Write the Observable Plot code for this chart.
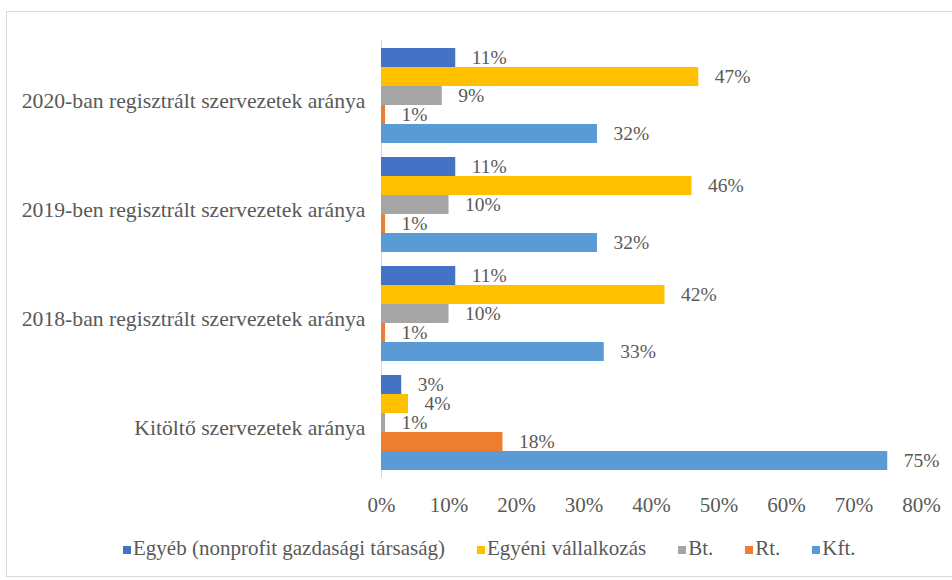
<!DOCTYPE html>
<html>
<head>
<meta charset="utf-8">
<script src="https://cdn.jsdelivr.net/npm/d3@7"></script>
<script src="https://cdn.jsdelivr.net/npm/@observablehq/plot@0.6"></script>
<style>
  html, body { margin: 0; padding: 0; background: #fff; }
  #wrap { position: relative; width: 952px; height: 580px; overflow: hidden; font-family: "Liberation Serif", "DejaVu Serif", "Noto Serif", Tinos, serif; }
  #frame { position: absolute; left: 6px; top: 11px; width: 1000px; height: 564px; border: 1px solid #d9d9d9; }
  #chart { position: absolute; left: 0; top: 0; }
  #legend { position: absolute; left: 123px; top: 536px; display: flex; align-items: center; gap: 32px; font-size: 21px; line-height: 24px; color: #595959; white-space: nowrap; }
  #legend .item { display: flex; align-items: center; }
  #legend .sw { width: 8px; height: 8px; margin-right: 2px; margin-top: 3px; }
  #chart svg text { font-family: "Liberation Serif", "DejaVu Serif", "Noto Serif", Tinos, serif; }
</style>
</head>
<body>
<div id="wrap">
  <div id="frame"></div>
  <div id="chart"></div>
  <div id="legend"></div>
</div>
<script>
// Categories (top to bottom)
const groups = [
  "2020-ban regisztrált szervezetek aránya",
  "2019-ben regisztrált szervezetek aránya",
  "2018-ban regisztrált szervezetek aránya",
  "Kitöltő szervezetek aránya"
];
// Series (top to bottom within each group)
const series = ["Egyéb (nonprofit gazdasági társaság)", "Egyéni vállalkozás", "Bt.", "Rt.", "Kft."];
const colors = ["#4472C4", "#FFC000", "#A5A5A5", "#ED7D31", "#5B9BD5"];

// Values in percent, one array per group, in series order
const values2020 = [11, 47, 9, 0.6, 32];
const values2019 = [11, 46, 10, 0.6, 32];
const values2018 = [11, 42, 10, 0.6, 33];
const valuesKitolto = [3, 4, 0.6, 18, 75];

const xTicks = [0, 0.1, 0.2, 0.3, 0.4, 0.5, 0.6, 0.7, 0.8];

const tables = [values2020, values2019, values2018, valuesKitolto];
const data = groups.flatMap((g, i) => series.map((s, j) => ({group: g, series: s, value: tables[i][j] / 100})));
const pct = v => Math.round(v * 100) + "%";
const serif = "'Liberation Serif', 'DejaVu Serif', 'Noto Serif', Tinos, serif";

const plot = Plot.plot({
  width: 952,
  height: 520,
  marginLeft: 381,
  marginRight: 31,
  marginTop: 40,
  marginBottom: 42,
  style: {fontFamily: serif, fontSize: "21px", color: "#595959", background: "transparent", overflow: "visible"},
  x: {domain: [0, 0.8]},
  y: {domain: series, padding: 0, axis: null},
  fy: {domain: groups, paddingInner: 0.13, paddingOuter: 0.065},
  color: {domain: series, range: colors},
  marks: [
    Plot.ruleX([0], {stroke: "#d9d9d9", strokeWidth: 1, insetTop: -8, insetBottom: -8}),
    Plot.barX(data, {x: "value", y: "series", fy: "group", fill: "series"}),
    Plot.text(data, {x: "value", y: "series", fy: "group", text: d => pct(d.value), dx: 16, textAnchor: "start", fill: "#595959", fontSize: 19.5}),
    Plot.axisFy({anchor: "left", tickSize: 0, tickPadding: 16, dy: 5, fontSize: 21.7, label: null, fill: "#595959"}),
    Plot.axisX({anchor: "bottom", ticks: xTicks, tickFormat: d3.format(".0%"), tickSize: 0, tickPadding: 27, fontSize: 21, label: null, fill: "#595959"})
  ]
});
document.getElementById("chart").appendChild(plot);

const legend = document.getElementById("legend");
series.forEach((s, i) => {
  const item = document.createElement("div");
  item.className = "item";
  const sw = document.createElement("span");
  sw.className = "sw";
  sw.style.background = plot.scale("color").apply(s);
  const t = document.createElement("span");
  t.textContent = s;
  item.appendChild(sw);
  item.appendChild(t);
  legend.appendChild(item);
});
</script>
</body>
</html>
